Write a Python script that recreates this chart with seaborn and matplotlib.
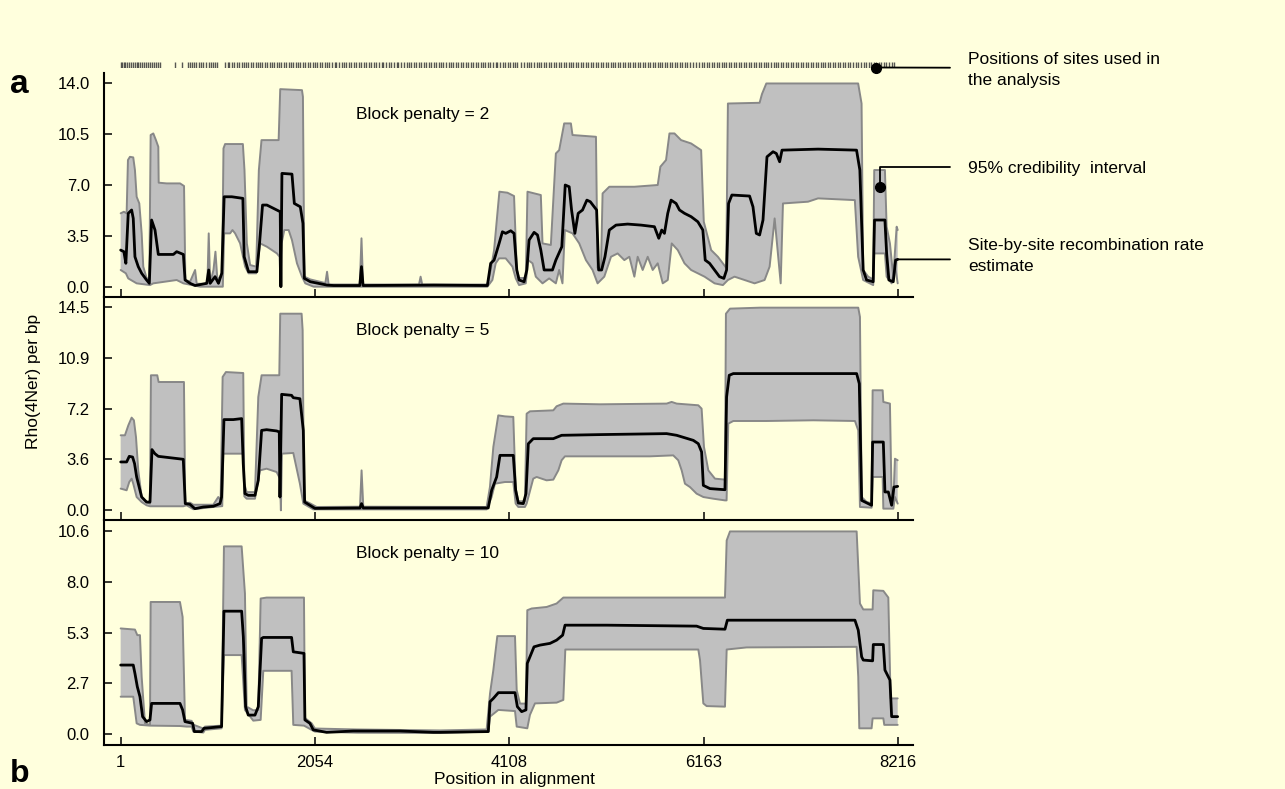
import numpy as np
import seaborn as sns
import matplotlib
matplotlib.use("Agg")
import matplotlib.pyplot as plt

sns.set_theme(style="white")
plt.rcParams["font.family"] = ["Liberation Sans", "DejaVu Sans"]
plt.rcParams["text.color"] = "black"
plt.rcParams["axes.labelcolor"] = "black"

BG = "#FFFFDD"
BAND = "#C0C0C0"
EDGE = "#888888"

# x axis (position in alignment)
XTICKS = [1, 2054, 4108, 6163, 8216]
XLIM = (-172, 8381)

# positions of the sites used in the analysis (rug at the top)
SITES = [3, 19, 38, 52, 71, 90, 112, 128, 149, 170, 186, 207, 231, 249, 266, 290, 311, 333, 352, 379, 398, 417,
         575, 652,
         708, 731, 756, 780, 797, 826, 851, 874, 899, 931, 955, 978, 1003, 1024,
         1102, 1131, 1149, 1177, 1203, 1226, 1248, 1281, 1304, 1322, 1351, 1377, 1398, 1431, 1452, 1479, 1500,
         1528, 1549, 1577, 1604, 1621, 1650, 1672, 1700, 1729, 1748, 1776, 1805, 1821, 1853, 1874, 1902, 1933,
         1949, 1978, 2003, 2031, 2055, 2081, 2110, 2128, 2157, 2186, 2204, 2233, 2262, 2281, 2312, 2338, 2359,
         2388, 2417, 2436, 2466, 2490, 2521, 2545, 2572, 2600, 2622, 2651, 2683, 2702, 2730, 2761, 2779, 2810,
         2838, 2860, 2889, 2918, 2937, 2969, 2992, 3023, 3046, 3075, 3101, 3128, 3155, 3177, 3206, 3234, 3256,
         3284, 3313, 3334, 3362, 3390, 3411, 3443, 3468, 3490, 3519, 3548, 3566, 3598, 3621, 3650, 3678, 3700,
         3727, 3756, 3778, 3806, 3833, 3857, 3886, 3909, 3935, 3964, 3985, 4014, 4040, 4062, 4093, 4117, 4146,
         4172, 4196, 4231,
         4268, 4295, 4322, 4341, 4370, 4398, 4420, 4449, 4476, 4499, 4527, 4553, 4578, 4605, 4630, 4657, 4684,
         4709, 4736, 4762, 4788, 4814, 4838, 4866, 4893,
         4921, 4945, 4972, 4999, 5023, 5050, 5077, 5101, 5128, 5155, 5180, 5207, 5231, 5259, 5284, 5311, 5338,
         5362, 5390, 5415, 5441, 5468, 5493, 5519, 5546, 5572, 5598, 5624, 5651, 5677, 5702, 5729, 5755, 5781,
         5808, 5833, 5860, 5886, 5912, 5938, 5965, 5990, 6021, 6057, 6084, 6113,
         6142, 6170, 6196, 6223, 6249, 6274, 6301, 6327, 6354, 6379, 6406, 6431, 6458, 6484, 6510, 6537, 6562,
         6589, 6615, 6641, 6667, 6694, 6720, 6745, 6772, 6798, 6824, 6850, 6877, 6903, 6929, 6955, 6982, 7008,
         7034, 7060, 7087, 7113, 7139, 7164, 7191, 7217, 7244, 7269, 7296, 7322, 7348, 7374, 7400, 7427, 7452,
         7479, 7505, 7531, 7557, 7584, 7609, 7636, 7662, 7689, 7714, 7741, 7770, 7801,
         7830, 7856, 7882, 7909, 7935, 7961, 7988, 8014, 8040, 8068, 8096, 8120, 8151, 8182]

# ---- block penalty = 2 ----
p2_upper_x = [1, 35, 64, 78, 99, 134, 152, 170, 198, 223, 240, 275, 304, 318, 346, 374, 399, 403, 487, 629,
              671, 685, 735, 788, 805, 876, 918, 932, 947, 982, 1003, 1024, 1053, 1074, 1088, 1105, 1293, 1310,
              1335, 1370, 1434, 1462, 1490, 1671, 1688, 1918, 1928, 1943, 2006, 2165, 2183, 2200, 2529, 2547,
              2564, 3155, 3172, 3189, 3878, 3913, 3949, 3984, 4005, 4090, 4160, 4189, 4213, 4284, 4302, 4443,
              4461, 4549, 4602, 4637, 4690, 4761, 4778, 5026, 5043, 5079, 5096, 5167, 5432, 5679, 5707, 5767,
              5803, 5856, 5926, 6032, 6138, 6166, 6244, 6315, 6403, 6421, 6756, 6781, 6827, 7798, 7834, 7851,
              7904, 7957, 7968, 8081, 8099, 8134, 8169, 8205, 8216]
p2_upper_y = [5.05, 5.16, 5.05, 8.72, 8.94, 8.90, 8.03, 6.19, 5.73, 3.67, 1.38, 0.60, 0.50, 10.44, 10.55,
              10.09, 9.63, 7.16, 7.11, 7.11, 6.93, 0.46, 0.35, 1.15, 0.20, 0.20, 0.23, 3.67, 0.23, 1.15, 2.41,
              0.46, 0.69, 1.00, 9.52, 9.82, 9.82, 8.03, 2.98, 1.49, 1.38, 8.03, 10.09, 10.09, 13.6, 13.53, 13.07,
              0.69, 0.50, 0.25, 1.03, 0.15, 0.15, 3.33, 0.15, 0.15, 0.69, 0.15, 0.15, 1.15, 2.52, 5.05, 6.54,
              6.47, 6.24, 1.15, 0.60, 0.60, 6.54, 6.31, 2.98, 2.87, 9.17, 9.40, 11.24, 11.24, 10.44, 10.32, 1.30,
              1.30, 6.42, 6.88, 6.88, 7.0, 8.26, 8.72, 10.55, 10.55, 10.09, 9.86, 9.40, 4.47, 2.52, 2.06, 1.30,
              12.61, 12.66, 13.26, 13.99, 13.99, 12.61, 1.15, 0.69, 0.50, 8.03, 8.03, 4.13, 2.98, 0.69, 4.13, 3.9]
p2_lower_x = [1, 56, 81, 170, 311, 346, 593, 664, 841, 1081, 1095, 1158, 1183, 1211, 1264, 1317, 1353, 1434,
              1476, 1547, 1653, 1681, 1692, 1702, 1731, 1777, 1812, 1865, 1918, 1953, 2041, 3878, 3931, 3966,
              4002, 4072, 4143, 4178, 4213, 4284, 4309, 4355, 4390, 4461, 4531, 4602, 4637, 4672, 4697, 4778,
              4849, 4920, 4990, 5043, 5114, 5185, 5255, 5326, 5379, 5432, 5467, 5520, 5573, 5626, 5679, 5732,
              5785, 5827, 5891, 5962, 6032, 6103, 6174, 6280, 6368, 6421, 6491, 6703, 6809, 6862, 6915, 6979,
              7003, 7268, 7374, 7763, 7798, 7851, 7957, 7968, 8081, 8099, 8152, 8187, 8216]
p2_lower_y = [1.15, 0.92, 0.57, 0.23, 0.11, 0.23, 0.46, 0.23, 0.0, 0.0, 3.67, 3.67, 3.9, 3.67, 2.98, 1.38,
              0.92, 0.92, 2.98, 2.75, 2.29, 2.06, 0.0, 2.98, 3.9, 3.9, 3.21, 1.61, 0.69, 0.23, 0.0, 0.0, 0.46,
              1.61, 1.95, 1.95, 1.38, 0.57, 0.11, 0.23, 1.83, 1.61, 0.69, 0.23, 0.57, 0.23, 1.15, 0.23, 3.9,
              3.67, 2.98, 1.83, 1.15, 0.23, 0.69, 2.06, 2.29, 1.83, 2.06, 0.69, 2.06, 1.15, 2.06, 1.15, 1.61,
              0.23, 0.46, 2.98, 2.52, 1.61, 1.15, 0.92, 0.69, 0.23, 0.11, 0.46, 0.69, 0.23, 0.46, 1.38, 4.70,
              0.23, 5.73, 5.85, 6.08, 5.96, 2.06, 0.46, 0.11, 2.29, 2.29, 0.69, 0.23, 1.50, 0.23]
p2_est_x = [1, 35, 56, 81, 117, 134, 152, 187, 223, 275, 304, 328, 364, 399, 558, 593, 664, 682, 735, 788,
            911, 932, 947, 999, 1035, 1070, 1095, 1176, 1293, 1307, 1353, 1441, 1469, 1501, 1547, 1653, 1688,
            1695, 1706, 1812, 1837, 1900, 1928, 1943, 2006, 2183, 2253, 2529, 2547, 2564, 3313, 3878, 3913,
            3949, 4002, 4037, 4072, 4125, 4160, 4189, 4213, 4266, 4295, 4319, 4372, 4408, 4443, 4478, 4566,
            4602, 4665, 4701, 4743, 4768, 4803, 4838, 4884, 4930, 4966, 5008, 5033, 5054, 5086, 5121, 5167,
            5238, 5361, 5502, 5644, 5690, 5721, 5750, 5785, 5820, 5873, 5909, 5962, 6032, 6103, 6156, 6181,
            6227, 6280, 6332, 6378, 6407, 6428, 6463, 6650, 6686, 6721, 6756, 6792, 6834, 6898, 6933, 6968,
            6993, 7374, 7781, 7816, 7851, 7887, 7957, 7971, 8081, 8099, 8123, 8169, 8194, 8216]
p2_est_y = [2.52, 2.41, 1.61, 5.05, 5.28, 4.70, 2.06, 1.38, 0.92, 0.46, 0.23, 4.59, 3.90, 2.22, 2.22, 2.41,
            2.22, 0.46, 0.23, 0.08, 0.23, 1.15, 0.23, 0.69, 0.23, 0.92, 6.19, 6.19, 6.08, 2.06, 1.03, 1.03,
            2.98, 5.62, 5.62, 5.28, 5.16, 0.0, 7.80, 7.75, 5.73, 5.50, 4.36, 0.57, 0.34, 0.11, 0.08, 0.08, 1.38,
            0.08, 0.11, 0.08, 1.61, 1.83, 2.98, 3.78, 3.67, 3.85, 3.67, 1.15, 0.46, 0.34, 1.15, 3.21, 3.74,
            3.56, 2.52, 1.15, 1.15, 1.83, 2.75, 7.0, 6.88, 5.28, 3.67, 5.05, 5.28, 5.96, 5.85, 5.50, 5.28, 1.15,
            1.15, 2.06, 3.90, 4.24, 4.31, 4.24, 4.13, 3.33, 3.90, 3.67, 5.05, 5.96, 5.73, 5.28, 5.05, 4.82,
            4.47, 3.90, 1.83, 1.61, 1.15, 0.69, 0.57, 1.15, 5.73, 6.31, 6.24, 5.50, 3.67, 3.56, 4.59, 8.94,
            9.29, 9.17, 8.60, 9.40, 9.47, 9.40, 8.03, 1.15, 0.46, 0.34, 4.59, 4.59, 2.29, 0.46, 0.34, 1.83, 1.88]

# ---- block penalty = 5 ----
p5_upper_x = [1, 46, 82, 117, 141, 163, 187, 223, 275, 311, 321, 388, 402, 670, 684, 733, 769, 980, 1033,
              1058, 1079, 1114, 1297, 1308, 1333, 1421, 1456, 1491, 1678, 1688, 1914, 1925, 1939, 2002, 2073,
              2531, 2548, 2566, 3870, 3905, 3941, 3993, 4064, 4152, 4177, 4205, 4275, 4293, 4328, 4575, 4610,
              4681, 5068, 5773, 5826, 5879, 6108, 6143, 6168, 6214, 6284, 6390, 6400, 6443, 6760, 7799, 7817,
              7835, 7887, 7940, 7951, 8057, 8064, 8134, 8152, 8170, 8187, 8216]
p5_upper_y = [5.35, 5.35, 6.06, 6.61, 6.42, 5.23, 2.85, 0.95, 0.59, 0.48, 9.63, 9.63, 9.15, 9.15, 0.48, 0.55,
              0.40, 0.40, 0.95, 0.71, 9.51, 9.86, 9.79, 1.90, 1.30, 1.30, 8.08, 9.63, 9.63, 14.02, 14.02, 12.84,
              0.71, 0.50, 0.24, 0.26, 2.85, 0.26, 0.24, 1.66, 4.52, 6.77, 6.70, 6.66, 1.60, 0.65, 0.65, 6.89,
              7.06, 7.13, 7.42, 7.61, 7.56, 7.61, 7.73, 7.61, 7.49, 7.25, 4.52, 2.85, 2.26, 2.19, 14.02, 14.38,
              14.45, 14.45, 13.79, 0.95, 0.60, 0.50, 8.56, 8.56, 7.73, 7.61, 0.71, 0.71, 3.68, 3.57]
p5_lower_x = [1, 64, 92, 117, 134, 170, 223, 275, 311, 663, 698, 769, 980, 1075, 1086, 1297, 1308, 1333, 1421,
              1474, 1544, 1650, 1685, 1695, 1706, 1826, 1896, 1932, 2037, 3870, 3923, 3958, 4064, 4152, 4177,
              4205, 4275, 4293, 4363, 4399, 4451, 4504, 4575, 4628, 4663, 4698, 5597, 5843, 5896, 5932, 5967,
              6020, 6090, 6161, 6266, 6390, 6407, 6425, 6478, 6830, 7324, 7764, 7799, 7817, 7940, 7951, 8057,
              8064, 8170, 8187, 8216]
p5_lower_y = [1.55, 1.43, 2.02, 2.26, 1.90, 0.95, 0.59, 0.36, 0.29, 0.29, 0.36, 0.08, 0.24, 0.30, 4.04, 4.04,
              1.00, 0.83, 0.83, 2.85, 2.97, 2.73, 2.26, 0.0, 4.04, 4.09, 1.90, 0.48, 0.07, 0.07, 0.95, 1.90,
              2.02, 2.02, 0.48, 0.24, 0.24, 0.48, 2.26, 2.38, 2.26, 2.14, 2.19, 2.85, 3.57, 3.85, 3.85, 3.92,
              3.57, 2.85, 1.90, 1.66, 1.19, 0.95, 0.83, 0.71, 0.71, 6.18, 6.37, 6.37, 6.42, 6.37, 5.70, 0.24,
              0.19, 2.38, 2.38, 0.12, 0.12, 0.95, 0.48]
p5_est_x = [1, 64, 92, 127, 148, 170, 223, 275, 311, 332, 363, 399, 663, 684, 733, 786, 875, 980, 1051, 1068,
            1093, 1192, 1280, 1297, 1315, 1350, 1421, 1456, 1491, 1544, 1650, 1678, 1685, 1703, 1808, 1826,
            1896, 1932, 1946, 2002, 2055, 2531, 2548, 2566, 3306, 3887, 3923, 3976, 4011, 4152, 4177, 4205,
            4258, 4286, 4311, 4363, 4575, 4663, 5068, 5773, 5879, 6055, 6108, 6143, 6161, 6231, 6390, 6407,
            6435, 6478, 7782, 7810, 7835, 7940, 7951, 8064, 8081, 8117, 8152, 8176, 8216]
p5_est_y = [3.45, 3.45, 3.85, 3.80, 3.33, 2.38, 0.95, 0.59, 0.59, 4.33, 4.04, 3.85, 3.64, 0.48, 0.43, 0.12,
            0.24, 0.29, 0.48, 0.95, 6.47, 6.47, 6.54, 3.33, 1.19, 1.07, 1.07, 2.14, 5.70, 5.75, 5.66, 5.59, 0.95,
            8.27, 8.20, 8.03, 7.96, 5.70, 0.59, 0.36, 0.14, 0.17, 0.48, 0.17, 0.17, 0.17, 1.43, 2.38, 3.92, 3.92,
            1.43, 0.52, 0.48, 1.19, 4.75, 5.11, 5.11, 5.35, 5.40, 5.47, 5.35, 4.99, 4.75, 4.16, 1.78, 1.55, 1.47,
            8.08, 9.63, 9.75, 9.75, 9.03, 0.71, 0.36, 4.87, 4.87, 1.31, 1.31, 0.36, 1.66, 1.71]

# ---- block penalty = 10 ----
p10_upper_x = [1, 152, 177, 205, 223, 258, 311, 318, 628, 656, 681, 751, 769, 875, 892, 1068, 1093, 1280,
               1315, 1333, 1403, 1456, 1481, 1544, 1939, 1949, 2020, 2055, 2500, 3377, 3870, 3906, 3941, 3983,
               4170, 4188, 4223, 4286, 4300, 4346, 4505, 4610, 4681, 5844, 6390, 6408, 6443, 7782, 7817, 7852,
               7951, 7958, 8064, 8117, 8141, 8216]
p10_upper_y = [5.52, 5.46, 5.17, 5.17, 3.00, 0.57, 0.49, 6.90, 6.90, 6.12, 0.75, 0.70, 0.50, 0.30, 0.40, 0.45,
               9.80, 9.80, 7.34, 1.44, 1.25, 1.27, 7.08, 7.13, 7.13, 0.85, 0.57, 0.30, 0.25, 0.20, 0.25, 2.13,
               3.35, 5.12, 5.12, 2.31, 1.60, 1.60, 6.47, 6.56, 6.64, 6.82, 7.13, 7.13, 7.13, 10.11, 10.58, 10.58,
               6.82, 6.51, 6.51, 7.51, 7.48, 7.13, 1.87, 1.87]
p10_lower_x = [1, 134, 152, 170, 205, 311, 628, 698, 751, 769, 875, 892, 1068, 1093, 1280, 1315, 1403, 1481,
               1509, 1808, 1826, 1939, 2020, 2055, 2500, 3377, 3888, 3906, 3994, 4170, 4188, 4300, 4328, 4381,
               4610, 4681, 4702, 6108, 6126, 6161, 6196, 6390, 6408, 6619, 7782, 7799, 7810, 7940, 7951, 8064,
               8074, 8216]
p10_lower_y = [1.96, 1.96, 1.27, 0.57, 0.49, 0.45, 0.43, 0.40, 0.40, 0.14, 0.09, 0.23, 0.31, 4.13, 4.13, 1.27,
               0.71, 0.75, 3.31, 3.31, 0.49, 0.45, 0.23, 0.14, 0.08, 0.07, 0.14, 0.92, 1.27, 1.21, 0.40, 0.31,
               1.01, 1.61, 1.65, 1.79, 4.42, 4.42, 3.87, 1.61, 1.47, 1.44, 4.42, 4.53, 4.56, 3.00, 0.31, 0.31,
               0.83, 0.83, 0.49, 0.49]
p10_est_x = [1, 134, 152, 177, 205, 233, 275, 311, 328, 628, 656, 681, 762, 780, 857, 882, 1068, 1093, 1280,
             1298, 1322, 1350, 1421, 1456, 1491, 1509, 1808, 1826, 1939, 1949, 2002, 2037, 2178, 2460, 2954,
             3306, 3377, 3888, 3906, 3941, 3994, 4170, 4195, 4240, 4286, 4300, 4371, 4434, 4540, 4610, 4674,
             4699, 5139, 6090, 6161, 6390, 6415, 6901, 7764, 7799, 7835, 7852, 7951, 7958, 8064, 8081, 8134,
             8152, 8216]
p10_est_y = [3.61, 3.61, 3.17, 2.48, 1.96, 0.92, 0.66, 0.75, 1.61, 1.61, 1.27, 0.66, 0.57, 0.14, 0.14, 0.31,
             0.40, 6.42, 6.42, 5.08, 1.44, 1.00, 1.00, 1.44, 5.00, 5.05, 5.05, 4.30, 4.22, 0.75, 0.57, 0.23, 0.10,
             0.17, 0.17, 0.10, 0.10, 0.14, 1.70, 1.87, 2.17, 2.17, 1.44, 1.18, 1.27, 3.70, 4.56, 4.65, 4.74,
             4.91, 5.17, 5.69, 5.69, 5.64, 5.52, 5.48, 5.95, 5.95, 5.95, 5.43, 4.04, 3.87, 3.83, 4.68, 4.68,
             3.35, 2.83, 0.92, 0.92]

penalties = ["Block penalty = 2", "Block penalty = 5", "Block penalty = 10"]
y_max = [14.0, 14.5, 10.6]
y_lims = [(-0.71, 14.69), (-0.71, 15.21), (-0.56, 11.16)]
y_tick_labels = [["0.0", "3.5", "7.0", "10.5", "14.0"],
                 ["0.0", "3.6", "7.2", "10.9", "14.5"],
                 ["0.0", "2.7", "5.3", "8.0", "10.6"]]
label_y = [0.814, 0.852, 0.854]

panels = [(p2_upper_x, p2_upper_y, p2_lower_x, p2_lower_y, p2_est_x, p2_est_y),
          (p5_upper_x, p5_upper_y, p5_lower_x, p5_lower_y, p5_est_x, p5_est_y),
          (p10_upper_x, p10_upper_y, p10_lower_x, p10_lower_y, p10_est_x, p10_est_y)]

W, H = 1285, 789
fig = plt.figure(figsize=(12.85, 7.89), dpi=100, facecolor=BG)


def box(x0, y0, x1, y1):
    return [x0 / W, 1 - y1 / H, (x1 - x0) / W, (y1 - y0) / H]


ax1 = fig.add_axes(box(104.3, 73.3, 913.3, 297))
ax2 = fig.add_axes(box(104.3, 297, 913.3, 520.3))
ax3 = fig.add_axes(box(104.3, 520.3, 913.3, 745))
axes = [ax1, ax2, ax3]

for i, (ax, (ux, uy, lx, ly, ex, ey)) in enumerate(zip(axes, panels)):
    ax.set_facecolor("none")
    poly_x = np.r_[ux, lx[::-1]]
    poly_y = np.r_[uy, ly[::-1]]
    ax.fill(poly_x, poly_y, color=BAND, lw=0)
    sns.lineplot(x=ux, y=uy, ax=ax, color=EDGE, lw=1.4, sort=False, estimator=None)
    sns.lineplot(x=lx, y=ly, ax=ax, color=EDGE, lw=1.4, sort=False, estimator=None)
    sns.lineplot(x=ex, y=ey, ax=ax, color="black", lw=2.0, sort=False, estimator=None)

    ax.set_xlim(*XLIM)
    ax.set_ylim(*y_lims[i])
    ax.set_yticks([y_max[i] * k / 4 for k in range(5)])
    ax.set_yticklabels(y_tick_labels[i])
    ax.set_xticks(XTICKS)
    ax.set_xticklabels([str(t) for t in XTICKS])
    ax.set_xlabel("")
    ax.set_ylabel("")
    for s in ["top", "right"]:
        ax.spines[s].set_visible(False)
    for s in ["left", "bottom"]:
        ax.spines[s].set_color("black")
        ax.spines[s].set_linewidth(1.5)
    ax.tick_params(axis="both", direction="in", length=6, width=1.1, color="black",
                   labelsize=12, labelcolor="black")
    ax.tick_params(axis="y", pad=10.5, left=True)
    ax.tick_params(axis="x", pad=7, bottom=True, labelbottom=(i == 2))
    ax.text(0.311, label_y[i], penalties[i], transform=ax.transAxes, fontsize=12.5,
            ha="left", va="center", color="black")

# rug of sites
ax_rug = fig.add_axes(box(104.3, 61.5, 913.3, 67.5))
sns.rugplot(x=SITES, ax=ax_rug, height=1, color="#3a3a3a", lw=1.0, alpha=0.85, expand_margins=False)
ax_rug.set_xlim(*XLIM)
ax_rug.set_ylim(0, 1)
ax_rug.axis("off")

# annotations
line_kw = dict(arrowstyle="-", color="black", lw=1.3, shrinkA=0, shrinkB=0)
ax_rug.plot([7983], [0.0], "o", color="black", ms=7, clip_on=False)
ax_rug.annotate("", xy=(7983, 0.0), xycoords="data", xytext=(950, H - 67.7),
                textcoords="figure pixels", arrowprops=line_kw, annotation_clip=False)

ax1.plot([8029], [6.88], "o", color="black", ms=7)
ax1.annotate("", xy=(8029, 6.88), xycoords="data", xytext=(950, H - 167.3),
             textcoords="figure pixels",
             arrowprops=dict(line_kw, connectionstyle="angle,angleA=0,angleB=90,rad=0"))
ax1.annotate("", xy=(p2_est_x[-1], p2_est_y[-1]), xycoords="data", xytext=(950, H - 259.4),
             textcoords="figure pixels", arrowprops=line_kw)

fig.text(968 / W, 1 - 70 / H, "Positions of sites used in\nthe analysis", fontsize=12.5,
         ha="left", va="center", linespacing=1.45)
fig.text(968 / W, 1 - 168 / H, "95% credibility  interval", fontsize=12.5, ha="left", va="center")
fig.text(968 / W, 1 - 256 / H, "Site-by-site recombination rate\nestimate", fontsize=12.5,
         ha="left", va="center", linespacing=1.45)

fig.text(34 / W, 1 - 381 / H, "Rho(4Ner) per bp", fontsize=12.5, rotation=90, ha="center", va="center")
fig.text(514 / W, 1 - 784 / H, "Position in alignment", fontsize=12.5, ha="center", va="baseline")
fig.text(10 / W, 1 - 93 / H, "a", fontsize=24, fontweight="bold", ha="left", va="baseline")
fig.text(10 / W, 1 - 782 / H, "b", fontsize=23, fontweight="bold", ha="left", va="baseline")

fig.savefig("out.png", dpi=100, facecolor=BG)
